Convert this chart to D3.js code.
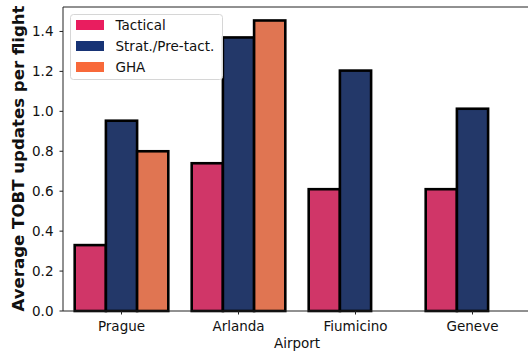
<!DOCTYPE html>
<html><head><meta charset="utf-8">
<script src="https://cdn.jsdelivr.net/npm/d3@7"></script>
<style>body{margin:0;background:#fff}svg{display:block}text{font-family:"DejaVu Sans",sans-serif}</style>
</head><body><svg id="c" width="528" height="356"></svg>
<script>
const categories = ["Prague", "Arlanda", "Fiumicino", "Geneve"];
const seriesNames = ["Tactical", "Strat./Pre-tact.", "GHA"];
const tactical = [0.33, 0.74, 0.61, 0.61];
const strat = [0.953, 1.37, 1.204, 1.013];
const gha = [0.80, 1.455, null, null];
const yTicks = [0.0, 0.2, 0.4, 0.6, 0.8, 1.0, 1.2, 1.4];
const legendColors = ["#e91d5f", "#173375", "#f8693a"];

const series = [tactical, strat, gha];
const svg = d3.select("#c");
const m = {l: 63, t: 7, r: 531, b: 311};
const x = d3.scaleLinear().domain([-0.5, categories.length - 0.5]).range([m.l, m.r]);
const y = d3.scaleLinear().domain([0, 1.5225]).range([m.b, m.t]);
const desat = c => { const h = d3.hsl(c); h.s *= 0.75; return h.formatHex(); };
const barColors = legendColors.map(desat);
const bw = 0.8 / series.length;
const fs = 13.5;

const g = svg.append("g");
series.forEach((vals, si) => {
  vals.forEach((v, ci) => {
    if (v == null) return;
    const x0 = ci - 0.4 + si * bw;
    g.append("rect")
      .attr("x", x(x0)).attr("width", x(x0 + bw) - x(x0))
      .attr("y", y(v)).attr("height", y(0) - y(v))
      .attr("fill", barColors[si]).attr("stroke", "#000").attr("stroke-width", 2.6);
  });
});

// axes
const ax = svg.append("g");
const sp = (x1, y1, x2, y2) => ax.append("line").attr("x1", x1).attr("x2", x2).attr("y1", y1).attr("y2", y2).attr("stroke", "#222").attr("stroke-width", 1);
sp(m.l, m.t, m.l, m.b); sp(m.l, m.b, m.r, m.b); sp(m.l, m.t, m.r, m.t); sp(m.r, m.t, m.r, m.b);

yTicks.forEach(t => {
  sp(m.l - 3.5, y(t), m.l, y(t));
  ax.append("text").attr("x", m.l - 9.5).attr("y", y(t)).attr("dy", "0.36em").attr("text-anchor", "end")
    .attr("font-size", fs).attr("fill", "#111").text(t.toFixed(1));
});
categories.forEach((c, i) => {
  sp(x(i), m.b, x(i), m.b + 3.5);
  ax.append("text").attr("x", x(i)).attr("y", 331).attr("text-anchor", "middle")
    .attr("font-size", fs).attr("fill", "#111").text(c);
});
svg.append("text").attr("x", 297).attr("y", 348).attr("text-anchor", "middle").attr("font-size", fs).attr("fill", "#111").text("Airport");
svg.append("text").attr("transform", "translate(23.5,158.5) rotate(-90)").attr("text-anchor", "middle")
  .attr("font-size", 16.6).attr("font-weight", "bold").attr("fill", "#111").text("Average TOBT updates per flight");

// legend
const lg = svg.append("g");
lg.append("rect").attr("x", 70.5).attr("y", 14.5).attr("width", 152).attr("height", 65).attr("rx", 3)
  .attr("fill", "#fff").attr("fill-opacity", 0.8).attr("stroke", "#d6d6d6");
seriesNames.forEach((n, i) => {
  const cy = 25 + i * 21;
  lg.append("rect").attr("x", 76).attr("y", cy - 5).attr("width", 28).attr("height", 10).attr("fill", legendColors[i]);
  lg.append("text").attr("x", 115.5).attr("y", cy).attr("dy", "0.36em").attr("font-size", fs).attr("fill", "#111").text(n);
});
</script></body></html>
